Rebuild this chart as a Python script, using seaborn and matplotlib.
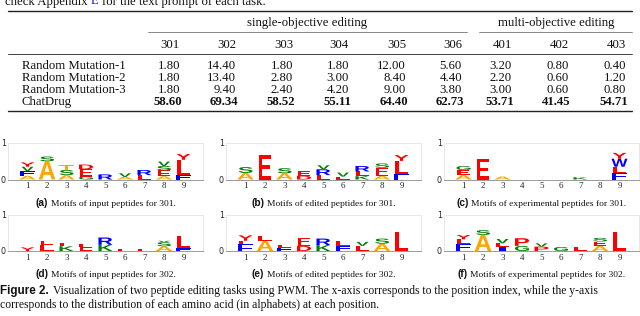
import matplotlib
matplotlib.use('Agg')
import matplotlib.pyplot as plt
import seaborn as sns
from matplotlib.textpath import TextPath
from matplotlib.font_manager import FontProperties
from matplotlib.patches import PathPatch
from matplotlib.transforms import Affine2D

sns.set_theme(style='white')
plt.rcParams['font.family'] = ['Liberation Serif', 'DejaVu Serif']

# ---- table data ----
task_ids = ['301', '302', '303', '304', '305', '306', '401', '402', '403']
methods = ['Random Mutation-1', 'Random Mutation-2', 'Random Mutation-3', 'ChatDrug']
rm1 = [1.80, 14.40, 1.80, 1.80, 12.00, 5.60, 3.20, 0.80, 0.40]
rm2 = [1.80, 13.40, 2.80, 3.00, 8.40, 4.40, 2.20, 0.60, 1.20]
rm3 = [1.80, 9.40, 2.40, 4.20, 9.00, 3.80, 3.00, 0.60, 0.80]
chatdrug = [58.60, 69.34, 58.52, 55.11, 64.40, 62.73, 53.71, 41.45, 54.71]
groups = ['single-objective editing', 'multi-objective editing']

# ---- logo data: (letter, height) stacked bottom to top, positions 1..9 ----
input_301 = [
    [('A', 0.10), ('F', 0.13), ('V', 0.12), ('Y', 0.12)],
    [('A', 0.50), ('S', 0.13)],
    [('A', 0.12), ('S', 0.14), ('T', 0.14)],
    [('G', 0.08), ('E', 0.20), ('D', 0.13)],
    [('R', 0.14)],
    [('A', 0.07), ('V', 0.10)],
    [('L', 0.12), ('R', 0.14)],
    [('A', 0.09), ('E', 0.16), ('S', 0.12), ('V', 0.12)],
    [('F', 0.12), ('L', 0.42), ('Y', 0.16)],
]
edited_301 = [
    [('A', 0.18), ('S', 0.16)],
    [('E', 0.67)],
    [('A', 0.17), ('S', 0.14)],
    [('D', 0.10), ('E', 0.13)],
    [('L', 0.12), ('R', 0.16), ('V', 0.11)],
    [('L', 0.08), ('V', 0.11)],
    [('K', 0.09), ('L', 0.13), ('R', 0.15)],
    [('A', 0.10), ('E', 0.22), ('S', 0.12)],
    [('F', 0.15), ('L', 0.36), ('Y', 0.16)],
]
experimental_301 = [
    [('A', 0.12), ('E', 0.14), ('G', 0.11)],
    [('E', 0.56)],
    [('A', 0.08)],
    [],
    [],
    [],
    [('K', 0.06)],
    [],
    [('F', 0.19), ('L', 0.16), ('W', 0.22), ('Y', 0.16)],
]
input_302 = [
    [('Y', 0.10)],
    [('L', 0.16), ('E', 0.12)],
    [('K', 0.13), ('L', 0.10)],
    [('E', 0.10), ('L', 0.08)],
    [('K', 0.17), ('R', 0.20)],
    [('L', 0.05)],
    [('L', 0.05)],
    [('A', 0.13), ('S', 0.11), ('V', 0.04)],
    [('F', 0.08), ('L', 0.34)],
]
edited_302 = [
    [('F', 0.18), ('L', 0.10), ('Y', 0.15)],
    [('A', 0.28), ('L', 0.14)],
    [('F', 0.09), ('L', 0.07)],
    [('D', 0.14), ('E', 0.22)],
    [('K', 0.16), ('R', 0.18)],
    [('F', 0.13), ('L', 0.15)],
    [('L', 0.14), ('V', 0.11)],
    [('A', 0.20), ('S', 0.14)],
    [('L', 0.52)],
]
experimental_302 = [
    [('F', 0.20), ('L', 0.12), ('Y', 0.12)],
    [('A', 0.44), ('S', 0.13)],
    [('I', 0.11), ('L', 0.10), ('V', 0.12)],
    [('G', 0.14), ('P', 0.21)],
    [('P', 0.12), ('V', 0.09)],
    [('G', 0.11)],
    [('L', 0.11)],
    [('A', 0.14), ('E', 0.12), ('S', 0.10)],
    [('L', 0.52)],
]
panel_tags = ['(a)', '(b)', '(c)', '(d)', '(e)', '(f)']
panel_texts = ['Motifs of input peptides for 301.', 'Motifs of edited peptides for 301.',
               'Motifs of experimental peptides for 301.', 'Motifs of input peptides for 302.',
               'Motifs of edited peptides for 302.', 'Motifs of experimental peptides for 302.']

# ---- styling ----
letter_colors = {'A': 'orange', 'T': 'orange',
                 'S': 'green', 'V': 'green', 'K': 'green', 'G': 'green',
                 'E': 'red', 'L': 'red', 'Y': 'red', 'P': 'red', 'D': 'red',
                 'F': 'blue', 'R': 'blue', 'W': 'blue', 'I': 'blue'}
letter_widths = {'A': 0.85, 'E': 0.62, 'V': 0.62, 'L': 0.68, 'I': 0.4, 'W': 0.82}
letter_font = FontProperties(family='Liberation Sans', weight='bold')

W, H = 640, 316
fig = plt.figure(figsize=(6.4, 3.16), dpi=100)
canvas = fig.add_axes([0, 0, 1, 1])
canvas.set_xlim(0, W)
canvas.set_ylim(H, 0)
canvas.axis('off')
renderer = fig.canvas.get_renderer()


def text_runs(x, y, parts, align='left', gap=0.25):
    """Draw consecutive text pieces with different fonts on one baseline."""
    items = []
    for s, kw in parts:
        t = canvas.text(0, y, s, va='baseline', ha='left', **kw)
        w = t.get_window_extent(renderer).width
        items.append((t, w, kw.get('fontsize', 9) * gap * 100 / 72))
    total = sum(w for _, w, _ in items) + sum(g for _, _, g in items[:-1])
    if align == 'center':
        x = x - total / 2
    for t, w, g in items:
        t.set_x(x)
        x += w + g


serif9 = dict(fontsize=9.2, family='Liberation Serif', color='#111111')

# clipped line of preceding text (cut off at the top, as in the page)
text_runs(5, 4.5, [('check Appendix', serif9), ('E', dict(serif9, color='#1a1aff')),
                   ('for the text prompt of each task.', serif9)])

# ---- table ----
col_right = [180, 236, 293, 349, 406, 462, 512, 569, 626]
canvas.plot([8, 632], [11, 11], color='#222222', lw=1.0)
canvas.plot([8, 632], [53.5, 53.5], color='#222222', lw=0.6)
canvas.plot([8, 632], [110.5, 110.5], color='#222222', lw=1.0)
canvas.plot([148, 467], [32, 32], color='#555555', lw=0.5)
canvas.plot([479, 632], [32, 32], color='#555555', lw=0.5)
canvas.text(307.5, 26, groups[0], ha='center', va='baseline', **serif9)
canvas.text(556, 26, groups[1], ha='center', va='baseline', **serif9)
for xr, tid in zip(col_right, task_ids):
    canvas.text(xr, 48, tid, ha='right', va='baseline', **serif9)

row_base = [69, 81, 93, 105]
for yb, name, vals in zip(row_base, methods, [rm1, rm2, rm3, chatdrug]):
    bold = name == 'ChatDrug'
    canvas.text(22, yb, name, ha='left', va='baseline', **serif9)
    for xr, v in zip(col_right, vals):
        canvas.text(xr + (2 if bold else 0), yb, f'{v:.2f}', ha='right', va='baseline',
                    fontweight='bold' if bold else 'normal', **serif9)


# ---- sequence logos ----
def draw_letter(ax, ch, x, y0, h):
    p = TextPath((0, 0), ch, size=1, prop=letter_font)
    ext = p.get_extents()
    w = letter_widths.get(ch, 0.72)
    tr = (Affine2D().translate(-ext.x0, -ext.y0)
          .scale(w / ext.width, h / ext.height)
          .translate(x - w / 2, y0))
    ax.add_patch(PathPatch(tr.transform_path(p), fc=letter_colors[ch], ec='none', lw=0))


def draw_logo(ax, stacks):
    for pos, stack in enumerate(stacks, start=1):
        y0 = 0.0
        for ch, h in stack:
            draw_letter(ax, ch, pos, y0, h)
            y0 += h
    ax.set_xlim(0, 10)
    ax.set_ylim(0, 1)
    ax.set_xticks(range(1, 10))
    ax.set_xticklabels([str(i) for i in range(1, 10)], family='Liberation Serif', fontsize=6.5)
    ax.set_yticks([0, 1])
    ax.set_yticklabels(['0', '1'], family='DejaVu Sans', fontsize=5.8)
    ax.tick_params(length=0, axis='x', pad=2)
    ax.tick_params(length=0, axis='y', pad=1.5)
    for side in ['top', 'right', 'left']:
        ax.spines[side].set_color('#e3e3e3')
        ax.spines[side].set_linewidth(0.6)
    ax.spines['bottom'].set_color('#8a8a8a')
    ax.spines['bottom'].set_linewidth(0.6)
    ax.set_facecolor('white')


logos = [input_301, edited_301, experimental_301, input_302, edited_302, experimental_302]
lefts = [8, 226, 444]
tops = [143, 214.5]
ax_w, ax_h = 195, 36.5
cap_base = [206, 277]
for i, stacks in enumerate(logos):
    r, c = divmod(i, 3)
    l, t = lefts[c], tops[r]
    ax = fig.add_axes([l / W, 1 - (t + ax_h) / H, ax_w / W, ax_h / H])
    draw_logo(ax, stacks)
    text_runs(l + ax_w / 2, cap_base[r],
              [(panel_tags[i], dict(fontsize=7.3, family='Liberation Sans', fontweight='bold', color='#111111')),
               (panel_texts[i], dict(fontsize=6.8, family='Liberation Serif', color='#111111'))],
              align='center')

# ---- figure caption ----
cap_serif = dict(fontsize=8.4, family='Liberation Serif', color='#111111')
text_runs(0, 294, [('Figure 2.', dict(fontsize=8.4, family='Liberation Sans', fontweight='bold', color='#111111')),
                   ('Visualization of two peptide editing tasks using PWM. The x-axis corresponds to the '
                    'position index, while the y-axis', cap_serif)], gap=0.4)
canvas.text(0, 308, 'corresponds to the distribution of each amino acid (in alphabets) at each position.',
            ha='left', va='baseline', **cap_serif)

fig.savefig('out.png', dpi=100)
